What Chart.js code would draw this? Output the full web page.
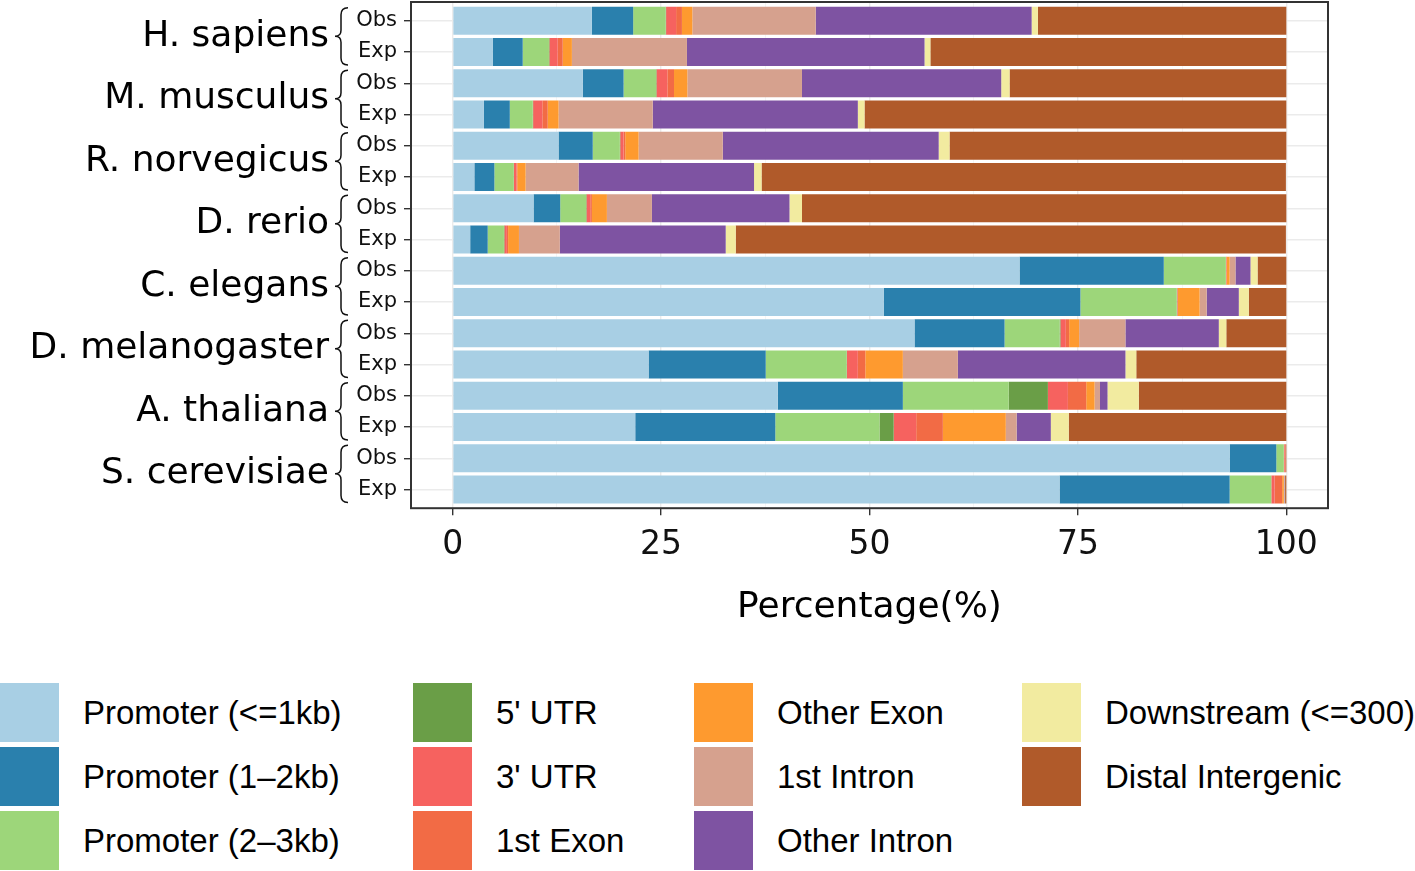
<!DOCTYPE html>
<html>
<head>
<meta charset="utf-8">
<script src="https://cdn.jsdelivr.net/npm/chart.js@4.4.1/dist/chart.umd.min.js"></script>
<style>
  body { margin: 0; background: #fff; width: 1415px; height: 871px; overflow: hidden; position: relative; }
  #chart { position: absolute; left: 0; top: 0; }
  .legend-item { position: absolute; height: 59px; display: flex; align-items: center; white-space: nowrap; }
  .swatch { width: 59px; height: 59px; flex: none; }
  .legend-item span { margin-left: 24px; font-family: "Liberation Sans", Arial, sans-serif; font-size: 33px; color: #000; }
</style>
</head>
<body>
<canvas id="chart" width="1415" height="640"></canvas>
<div id="legend"></div>
<script>
// rows, top to bottom
const species = ['H. sapiens', 'M. musculus', 'R. norvegicus', 'D. rerio', 'C. elegans', 'D. melanogaster', 'A. thaliana', 'S. cerevisiae'];
const rowLabels = ['Obs', 'Exp', 'Obs', 'Exp', 'Obs', 'Exp', 'Obs', 'Exp', 'Obs', 'Exp', 'Obs', 'Exp', 'Obs', 'Exp', 'Obs', 'Exp'];

const categories = ['Promoter (<=1kb)', 'Promoter (1\u20132kb)', 'Promoter (2\u20133kb)', "5' UTR", "3' UTR", '1st Exon', 'Other Exon', '1st Intron', 'Other Intron', 'Downstream (<=300)', 'Distal Intergenic'];
const colors = ['#A8CFE4', '#2A80AD', '#9DD67A', '#6A9E47', '#F6625F', '#F26B45', '#FE9A2F', '#D6A18E', '#7E53A2', '#F2EBA0', '#B05A2A'];

// percentages per row (HsObs, HsExp, MmObs, MmExp, RnObs, RnExp, DrObs, DrExp, CeObs, CeExp, DmObs, DmExp, AtObs, AtExp, ScObs, ScExp)
const promoter1kb = [16.7, 4.8, 15.6, 3.75, 12.7, 2.6, 9.7, 2.1, 68.0, 51.7, 55.4, 23.5, 39.0, 21.9, 93.2, 72.8];
const promoter2kb = [4.95, 3.6, 4.9, 3.1, 4.1, 2.4, 3.2, 2.1, 17.3, 23.6, 10.8, 14.05, 15.0, 16.8, 5.6, 20.4];
const promoter3kb = [3.9, 3.15, 3.9, 2.75, 3.25, 2.3, 3.1, 1.95, 7.45, 11.55, 6.6, 9.7, 12.7, 12.5, 0.9, 5.0];
const utr5 = [0.05, 0.05, 0.05, 0.05, 0.05, 0.05, 0.05, 0.05, 0, 0.05, 0.1, 0.05, 4.7, 1.7, 0, 0];
const utr3 = [1.2, 1.0, 1.3, 1.1, 0.4, 0.3, 0.45, 0.3, 0.05, 0.05, 0.65, 1.3, 2.4, 2.7, 0.1, 0.4];
const exon1 = [0.7, 0.6, 0.8, 0.65, 0.2, 0.1, 0.2, 0.15, 0.05, 0.05, 0.4, 0.9, 2.2, 3.2, 0.1, 0.9];
const otherExon = [1.25, 1.1, 1.6, 1.3, 1.6, 1.0, 1.8, 1.3, 0.35, 2.6, 1.2, 4.5, 1.0, 7.55, 0, 0.2];
const intron1 = [14.8, 13.8, 13.75, 11.3, 10.1, 6.35, 5.4, 4.9, 0.7, 0.85, 5.55, 6.6, 0.65, 1.3, 0, 0.05];
const otherIntron = [25.9, 28.5, 23.9, 24.6, 25.9, 21.05, 16.5, 19.9, 1.8, 3.85, 11.2, 20.1, 0.9, 4.1, 0, 0.05];
const downstream = [0.75, 0.7, 1.0, 0.8, 1.3, 0.9, 1.5, 1.2, 0.85, 1.2, 0.9, 1.3, 3.75, 2.15, 0, 0.05];
const distal = [29.8, 42.7, 33.2, 50.6, 40.4, 62.9, 58.1, 66.0, 3.45, 4.5, 7.2, 18.0, 17.7, 26.1, 0.1, 0.15];

const seriesValues = [promoter1kb, promoter2kb, promoter3kb, utr5, utr3, exon1, otherExon, intron1, otherIntron, downstream, distal];

const xTickLabels = [0, 25, 50, 75, 100];
const xGridValues = [0, 12.5, 25, 37.5, 50, 62.5, 75, 87.5, 100];

const datasets = categories.map((name, k) => ({
  label: name,
  data: seriesValues[k].map((v, i) => ({ x: v, y: i })),
  backgroundColor: colors[k],
  stack: 'all',
  barPercentage: 0.9,
  categoryPercentage: 1.0,
  borderWidth: 0
}));

// species names with braces, plus the panel border
const decorPlugin = {
  id: 'decor',
  afterDraw(chart) {
    const { ctx, chartArea, scales: { y } } = chart;
    ctx.save();
    ctx.strokeStyle = '#333';
    ctx.lineWidth = 2;
    ctx.strokeRect(chartArea.left, chartArea.top, chartArea.right - chartArea.left, chartArea.bottom - chartArea.top);

    species.forEach((name, i) => {
      const yTop = y.getPixelForValue(2 * i);
      const yBot = y.getPixelForValue(2 * i + 1);
      const yc = (yTop + yBot) / 2;
      ctx.font = '36px "DejaVu Sans"';
      ctx.fillStyle = '#000';
      ctx.textAlign = 'right';
      ctx.textBaseline = 'middle';
      ctx.fillText(name, 329, yc);

      const top = yTop - 13, bot = yBot + 13;
      ctx.beginPath();
      ctx.moveTo(348, top);
      ctx.quadraticCurveTo(341, top, 341, top + 7);
      ctx.lineTo(341, yc - 6);
      ctx.quadraticCurveTo(341, yc, 335, yc);
      ctx.quadraticCurveTo(341, yc, 341, yc + 6);
      ctx.lineTo(341, bot - 7);
      ctx.quadraticCurveTo(341, bot, 348, bot);
      ctx.strokeStyle = '#111';
      ctx.lineWidth = 1.5;
      ctx.stroke();
    });
    ctx.restore();
  }
};

new Chart(document.getElementById('chart'), {
  type: 'bar',
  data: { datasets },
  plugins: [decorPlugin],
  options: {
    indexAxis: 'y',
    responsive: false,
    animation: false,
    devicePixelRatio: 1,
    layout: { padding: { top: 2, right: 87, bottom: 11, left: 0 } },
    plugins: { legend: { display: false }, tooltip: { enabled: false } },
    scales: {
      x: {
        type: 'linear',
        stacked: true,
        min: -5,
        max: 105,
        afterBuildTicks: s => { s.ticks = xGridValues.map(v => ({ value: v })); },
        ticks: {
          autoSkip: false,
          maxRotation: 0,
          padding: 10,
          color: '#111',
          font: { family: 'DejaVu Sans', size: 33 },
          callback: v => xTickLabels.includes(v) ? String(v) : ''
        },
        grid: {
          color: c => xTickLabels.includes(c.tick && c.tick.value) ? '#EBEBEB' : '#F5F5F5',
          lineWidth: c => xTickLabels.includes(c.tick && c.tick.value) ? 1.4 : 1,
          tickColor: c => xTickLabels.includes(c.tick && c.tick.value) ? '#333' : 'rgba(0,0,0,0)',
          tickLength: 7
        },
        border: { display: false },
        title: {
          display: true,
          text: 'Percentage(%)',
          color: '#000',
          font: { family: 'DejaVu Sans', size: 36 },
          padding: { top: 11, bottom: 0 }
        }
      },
      y: {
        type: 'linear',
        reverse: true,
        offset: false,
        min: -0.6,
        max: 15.6,
        afterBuildTicks: s => { s.ticks = rowLabels.map((_, i) => ({ value: i })); },
        afterFit: s => { s.width = 411; s.paddingTop = 0; s.paddingBottom = 0; },
        ticks: {
          autoSkip: false,
          padding: 7,
          color: '#111',
          font: { family: 'DejaVu Sans', size: 21 },
          callback: (v, i) => rowLabels[i]
        },
        grid: { color: '#EBEBEB', lineWidth: 1.4, tickColor: '#333', tickLength: 7, offset: false },
        border: { display: false }
      }
    }
  }
});

// legend, three rows per column
const legendCols = [0, 413, 694, 1022];
const legendRows = [683, 747, 811];
const legend = document.getElementById('legend');
categories.forEach((name, k) => {
  const item = document.createElement('div');
  item.className = 'legend-item';
  item.style.left = legendCols[Math.floor(k / 3)] + 'px';
  item.style.top = legendRows[k % 3] + 'px';
  item.innerHTML = '<div class="swatch" style="background:' + colors[k] + '"></div><span></span>';
  item.querySelector('span').textContent = name;
  legend.appendChild(item);
});
</script>
</body>
</html>
